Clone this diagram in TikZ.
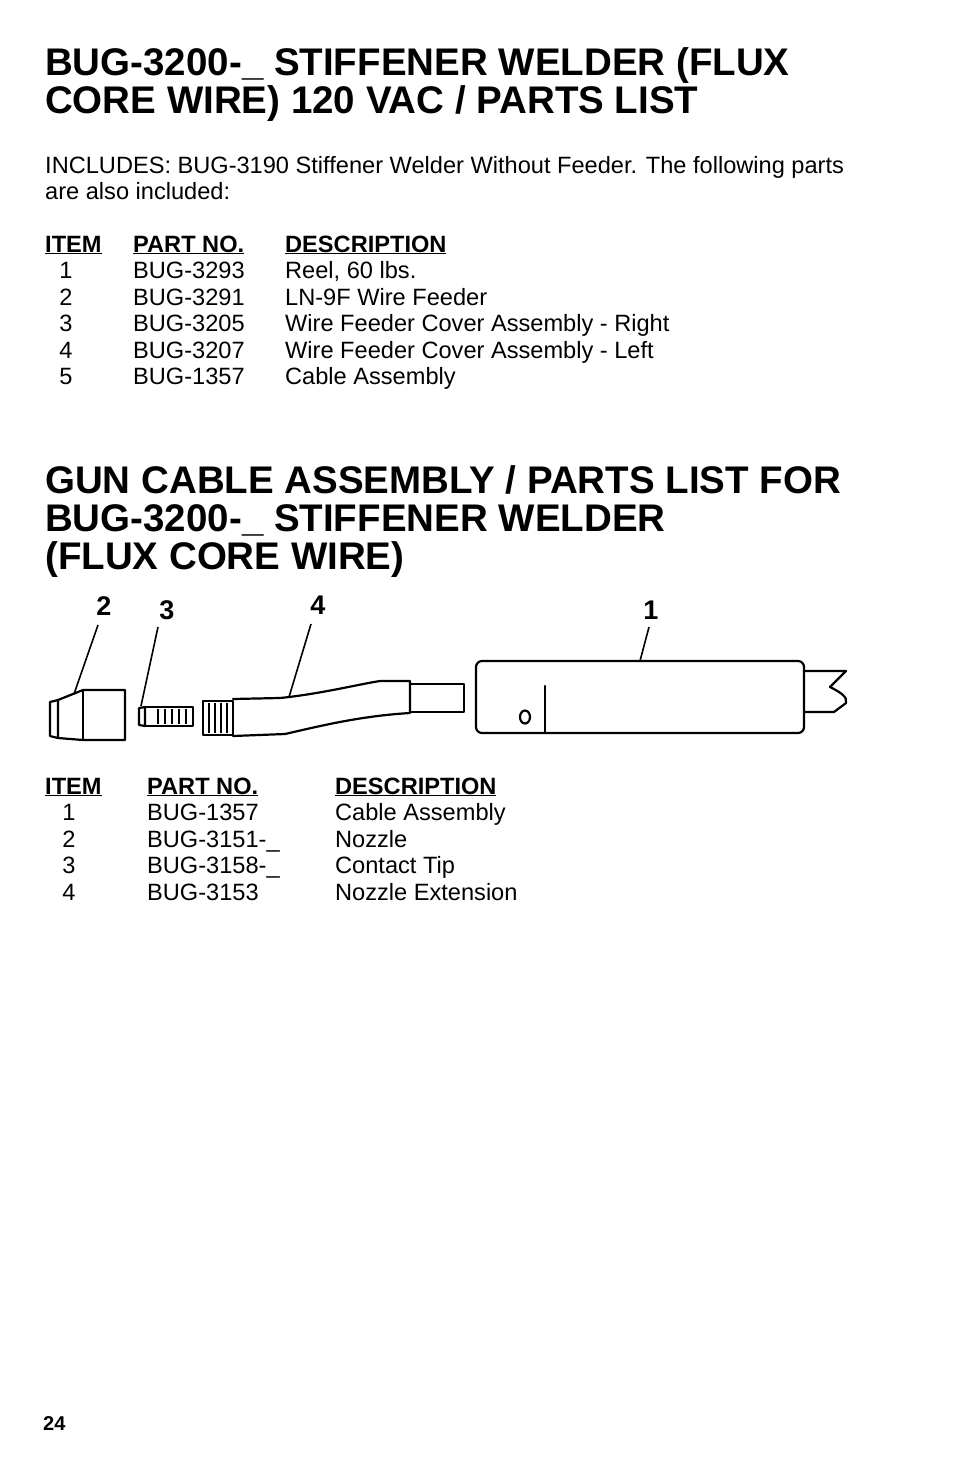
\documentclass[tikz,border=0pt]{standalone}
\usepackage{fontspec}
\setmainfont{Liberation Sans}
\begin{document}
\begin{tikzpicture}[x=1pt,y=-1pt,
  ttl/.style={anchor=base west,inner sep=0pt,font=\fontsize{38.5}{38}\selectfont\bfseries},
  txt/.style={anchor=base west,inner sep=0pt,font=\fontsize{23.6}{23}\selectfont},
  num/.style={anchor=base,inner sep=0pt,font=\fontsize{23.6}{23}\selectfont},
  lbl/.style={anchor=base,inner sep=0pt,font=\fontsize{27}{27}\selectfont\bfseries},
  part/.style={line width=2.2pt,line join=round,line cap=round},
  lead/.style={line width=1.6pt}]
\useasboundingbox[fill=white] (0,0) rectangle (954,1475);
% titles
\node[ttl] (t1) at (45,75) {BUG-3200-\_ STIFFENER WELDER (FLUX};
\node[ttl] (t2) at (45,113) {CORE WIRE) 120 VAC / PARTS LIST};
\node[txt] (inc1) at (45,173) {INCLUDES: BUG-3190 Stiffener Welder Without Feeder. The following parts};
\node[txt] (inc2) at (45,199) {are also included:};
% table 1
\node[txt] (h1) at (45,252) {\underline{\textbf{ITEM}}};
\node[txt] (h2) at (133,252) {\underline{\textbf{PART NO.}}};
\node[txt] (h3) at (285,252) {\underline{\textbf{DESCRIPTION}}};
\foreach \i/\p/\d [count=\k] in {1/BUG-3293/{Reel, 60 lbs.},2/BUG-3291/LN-9F Wire Feeder,3/BUG-3205/Wire Feeder Cover Assembly - Right,4/BUG-3207/Wire Feeder Cover Assembly - Left,5/BUG-1357/Cable Assembly}{
  \node[num] (ai\k) at (66,252+26.5*\k) {\i};
  \node[txt] (ap\k) at (133,252+26.5*\k) {\p};
  \node[txt] (ad\k) at (285,252+26.5*\k) {\d};
}
% title 2
\node[ttl] (u1) at (45,493) {GUN CABLE ASSEMBLY / PARTS LIST FOR};
\node[ttl] (u2) at (45,531) {BUG-3200-\_ STIFFENER WELDER};
\node[ttl] (u3) at (45,569) {(FLUX CORE WIRE)};
% drawing
% nozzle
\draw[part] (58,700) -- (50,702) -- (50,736) -- (58,738) -- cycle;
\draw[part] (58,700) -- (83,690) -- (125,690) -- (125,740) -- (83,740) -- (58,738);
\draw[part] (83,690) -- (83,740);
% contact tip
\draw[part] (145,707) -- (139,708) -- (139,725) -- (145,726) -- cycle;
\draw[part] (145,707) -- (193,707) -- (193,726) -- (145,726);
\foreach \x in {158,165,172,179,186} \draw[line width=1.4pt] (\x,709) -- (\x,724);
% extension
\draw[part] (203,701) rectangle (233,735);
\foreach \x in {209,215,221,227} \draw[line width=1.4pt] (\x,703) -- (\x,733);
\draw[part] (233,699) -- (280,698) .. controls (320,694) and (360,684) .. (380,681) -- (410,681) -- (410,713) .. controls (360,716) and (320,726) .. (285,734) -- (233,736);
\draw[part] (410,684) rectangle (464,712);
% cable assembly
\draw[part,rounded corners=6pt] (476,661) rectangle (804,733);
\draw[part] (545,686) -- (545,733);
\draw[part] (525,717) ellipse (5 and 6.5);
\draw[part] (804,671) -- (846,671) -- (830,687) .. controls (840,692) and (848,697) .. (846,703) -- (834,712) -- (804,712);
% labels
\node[lbl] (l2) at (104,615) {2};
\node[lbl] (l3) at (167,619) {3};
\node[lbl] (l4) at (318,614) {4};
\node[lbl] (l1) at (651,619) {1};
\coordinate (e2) at (74,694);
\coordinate (e3) at (141,706);
\coordinate (e4) at (289,697);
\coordinate (e1) at (640,661);
\draw[lead] (98,625) -- (e2);
\draw[lead] (158,627) -- (e3);
\draw[lead] (311,624) -- (e4);
\draw[lead] (649,627) -- (e1);
% table 2
\node[txt] (g1) at (45,794) {\underline{\textbf{ITEM}}};
\node[txt] (g2) at (147,794) {\underline{\textbf{PART NO.}}};
\node[txt] (g3) at (335,794) {\underline{\textbf{DESCRIPTION}}};
\foreach \i/\p/\d [count=\k] in {1/BUG-1357/Cable Assembly,2/BUG-3151-\_/Nozzle,3/BUG-3158-\_/Contact Tip,4/BUG-3153/Nozzle Extension}{
  \node[num] (bi\k) at (69,794+26.5*\k) {\i};
  \node[txt] (bp\k) at (147,794+26.5*\k) {\p};
  \node[txt] (bd\k) at (335,794+26.5*\k) {\d};
}
\node[anchor=base west,inner sep=0pt,font=\fontsize{20}{20}\selectfont\bfseries] (pg) at (43,1430) {24};
\end{tikzpicture}
\end{document}
